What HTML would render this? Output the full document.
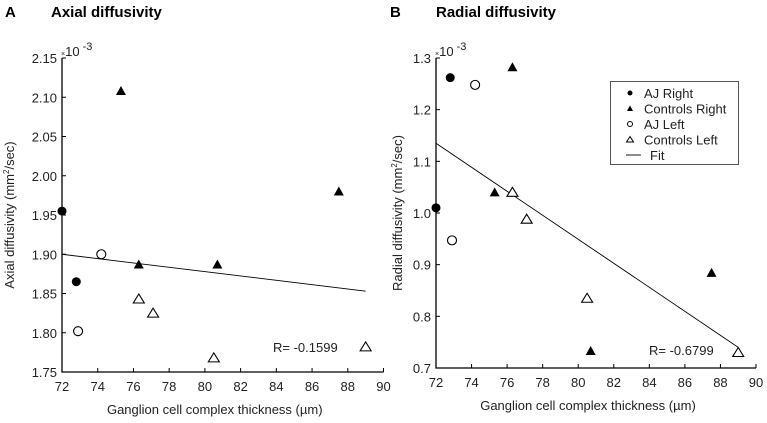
<!DOCTYPE html>
<html><head><meta charset="utf-8"><style>
body{margin:0;background:#fff;}
svg{display:block;font-family:"Liberation Sans",sans-serif;}
</style></head><body>
<svg id="svg" width="767" height="423" viewBox="0 0 767 423"></svg>
<script>
const xTicks=[72,74,76,78,80,82,84,86,88,90];
const aTicks=[1.75,1.80,1.85,1.90,1.95,2.00,2.05,2.10,2.15];
const bTicks=[0.7,0.8,0.9,1.0,1.1,1.2,1.3];
const aAJRightX=[72,72.8], aAJRightY=[1.955,1.865];
const aCRightX=[75.3,76.3,80.7,87.5], aCRightY=[2.108,1.887,1.887,1.98];
const aAJLeftX=[74.2,72.9], aAJLeftY=[1.9,1.802];
const aCLeftX=[76.3,77.1,80.5,89], aCLeftY=[1.843,1.825,1.768,1.782];
const aFitX=[72,89], aFitY=[1.9,1.853];
const bAJRightX=[72,72.8], bAJRightY=[1.01,1.262];
const bCRightX=[76.3,75.3,80.7,87.5], bCRightY=[1.282,1.04,0.733,0.884];
const bAJLeftX=[74.2,72.9], bAJLeftY=[1.248,0.947];
const bCLeftX=[76.3,77.1,80.5,89], bCLeftY=[1.04,0.988,0.835,0.73];
const bFitX=[72,89], bFitY=[1.135,0.74];

const NS="http://www.w3.org/2000/svg", svg=document.getElementById('svg');
function mk(tag,attrs,parent,text){const e=document.createElementNS(NS,tag);for(const k in attrs)e.setAttribute(k,attrs[k]);if(text!==undefined)e.textContent=text;(parent||svg).appendChild(e);return e;}

function panel(cfg){
  const g=mk('g',{});
  
  
  const X=v=>cfg.x0+(v-72)/18*(cfg.x1-cfg.x0);
  const Y=v=>cfg.yb+(v-cfg.ymin)/(cfg.ymax-cfg.ymin)*(cfg.yt-cfg.yb);
  const t1=mk('text',{x:cfg.lx,y:17,'font-size':15,'font-weight':'bold'},g,cfg.letter);
  
  const t2=mk('text',{x:cfg.lx+46,y:17,'font-size':15,'font-weight':'bold'},g,cfg.title);
  
  const ax=mk('path',{d:`M${cfg.x0},${cfg.yt}V${cfg.yb}H${cfg.x1}`,stroke:'#000','stroke-width':1.3,fill:'none'},g);
  
  xTicks.forEach(v=>{
    const x=X(v);
    mk('line',{x1:x,x2:x,y1:cfg.yb,y2:cfg.yb-4,stroke:'#000'},g);
    const t=mk('text',{x:x,y:cfg.yb+19,'font-size':13,'text-anchor':'middle',fill:'#222'},g,String(v));
    
  });
  cfg.yt_.forEach(v=>{
    const y=Y(v);
    mk('line',{x1:cfg.x0,x2:cfg.x0+4,y1:y,y2:y,stroke:'#000'},g);
    const t=mk('text',{x:cfg.x0-5,y:y+5,'font-size':13,'text-anchor':'end',fill:'#222'},g,v.toFixed(cfg.dec));
    
  });
  const ex=mk('text',{x:cfg.x0-1,y:cfg.yt-2,'font-size':13,fill:'#222'},g);
  
  ex.innerHTML='<tspan font-size="7">×</tspan>10<tspan dy="-6" font-size="11"> -3</tspan>';
  const xt=mk('text',{x:(cfg.x0+cfg.x1)/2-8,y:cfg.yb+42,'font-size':13,'text-anchor':'middle',fill:'#222'},g,'Ganglion cell complex thickness (µm)');
  
  const cy=(cfg.yt+cfg.yb)/2;
  const yt=mk('text',{x:0,y:0,'font-size':13,'text-anchor':'middle',fill:'#222',transform:`translate(${cfg.ytx},${cy}) rotate(-90)`},g);
  
  yt.innerHTML=cfg.ylabel+' (mm<tspan dy="-5" font-size="8">2</tspan><tspan dy="5">/sec)</tspan>';
  const fit=mk('line',{x1:X(cfg.fx[0]),y1:Y(cfg.fy[0]),x2:X(cfg.fx[1]),y2:Y(cfg.fy[1]),stroke:'#000','stroke-width':0.9},g);
  
  function pts(xs,ys,kind){
    xs.forEach((xv,i)=>{
      const x=X(xv),y=Y(ys[i]);let e;
      if(kind==='fc')e=mk('circle',{cx:x,cy:y,r:4.5,fill:'#000'},g);
      else if(kind==='oc')e=mk('circle',{cx:x,cy:y,r:4.5,fill:'#fff',stroke:'#000','stroke-width':1.1},g);
      else if(kind==='ft')e=mk('path',{d:`M${x},${y-5}L${x+5},${y+4}L${x-5},${y+4}Z`,fill:'#000'},g);
      else e=mk('path',{d:`M${x},${y-5}L${x+5.5},${y+4}L${x-5.5},${y+4}Z`,fill:'#fff',stroke:'#000','stroke-width':1.1},g);
      
      
    });
  }
  pts(cfg.s[0][0],cfg.s[0][1],'fc');pts(cfg.s[1][0],cfg.s[1][1],'ft');
  pts(cfg.s[2][0],cfg.s[2][1],'oc');pts(cfg.s[3][0],cfg.s[3][1],'ot');
  const r=mk('text',{x:cfg.rx,y:cfg.ry,'font-size':13,fill:'#222'},g,cfg.rtext);
  
}
panel({name:'panel-a',letter:'A',title:'Axial diffusivity',lx:5,x0:62,x1:383.5,yt:58,yb:372,ymin:1.75,ymax:2.15,yt_:aTicks,dec:2,ytx:14,ylabel:'Axial diffusivity',fx:aFitX,fy:aFitY,
 s:[[aAJRightX,aAJRightY],[aCRightX,aCRightY],[aAJLeftX,aAJLeftY],[aCLeftX,aCLeftY]],rx:273,ry:352,rtext:'R= -0.1599'});
panel({name:'panel-b',letter:'B',title:'Radial diffusivity',lx:390,x0:436,x1:756,yt:58,yb:368,ymin:0.7,ymax:1.3,yt_:bTicks,dec:1,ytx:402,ylabel:'Radial diffusivity',fx:bFitX,fy:bFitY,
 s:[[bAJRightX,bAJRightY],[bCRightX,bCRightY],[bAJLeftX,bAJLeftY],[bCLeftX,bCLeftY]],rx:649,ry:355,rtext:'R= -0.6799'});

const lg=mk('g',{});


mk('rect',{x:610.5,y:81.5,width:128,height:83,fill:'#fff',stroke:'#555','stroke-width':1},lg);
const items=[['AJ Right','fc'],['Controls Right','ft'],['AJ  Left','oc'],['Controls Left','ot']];
items.forEach((it,i)=>{
  const y=93+i*15.5, x=630;
  const e=mk('g',{},lg);
  
  
  if(it[1]==='fc')mk('circle',{cx:x,cy:y,r:2.5,fill:'#000'},e);
  else if(it[1]==='oc')mk('circle',{cx:x,cy:y,r:2.5,fill:'#fff',stroke:'#000'},e);
  else if(it[1]==='ft')mk('path',{d:`M${x},${y-3}L${x+3},${y+2.5}L${x-3},${y+2.5}Z`,fill:'#000'},e);
  else mk('path',{d:`M${x},${y-3}L${x+3.5},${y+2.5}L${x-3.5},${y+2.5}Z`,fill:'#fff',stroke:'#000'},e);
  mk('text',{x:644,y:y+5,'font-size':13,fill:'#222'},e,it[0]);
});
const fe=mk('g',{},lg);


mk('line',{x1:626,x2:641,y1:155,y2:155,stroke:'#000','stroke-width':0.9},fe);
mk('text',{x:650,y:160,'font-size':13,fill:'#222'},fe,'Fit');
</script>
</body></html>
